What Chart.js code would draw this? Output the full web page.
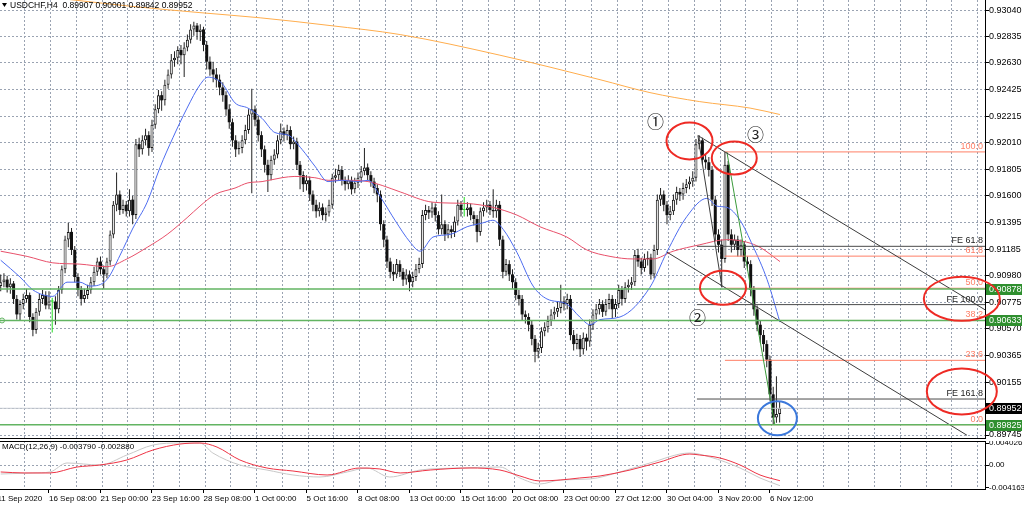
<!DOCTYPE html>
<html><head><meta charset="utf-8">
<script src="https://cdn.jsdelivr.net/npm/chart.js@4.4.1/dist/chart.umd.min.js"></script>
<style>
html,body{margin:0;padding:0;background:#fff;}
body{width:1024px;height:509px;position:relative;overflow:hidden;}
canvas{position:absolute;left:0;}
#c1{top:0}
#c2{top:441px}
</style></head><body>
<canvas id="c1" width="1024" height="439"></canvas>
<canvas id="c2" width="1024" height="68"></canvas>
<script>
// ---------------- DATA ----------------
const opens = [
.9090,.9093,.9095,.9089,.9092,.9080,.9068,.9076,.9080,.9083,.9066,.9056,.9070,.9080,.9083,.9075,
.9078,.9078,.9072,.9087,.9103,.9126,.9132,.9118,.9097,.9087,.9080,.9083,.9087,.9093,.9101,.9109,
.9103,.9099,.9109,.9130,.9153,.9161,.9149,.9153,.9148,.9157,.9145,.9200,.9196,.9203,.9207,.9197,
.9215,.9227,.9238,.9234,.9246,.9254,.9265,.9267,.9273,.9269,.9275,.9281,.9289,.9292,.9287,.9289,
.9277,.9264,.9258,.9254,.9250,.9244,.9238,.9227,.9217,.9203,.9196,.9197,.9203,.9211,.9223,.9227,
.9219,.9207,.9196,.9184,.9176,.9188,.9192,.9203,.9210,.9207,.9211,.9200,.9202,.9184,.9176,.9169,
.9172,.9161,.9153,.9148,.9151,.9145,.9147,.9153,.9174,.9176,.9180,.9172,.9169,.9172,.9165,.9170,
.9174,.9179,.9182,.9176,.9171,.9166,.9161,.9138,.9126,.9109,.9101,.9099,.9107,.9101,.9095,
.9099,.9093,.9097,.9103,.9107,.9145,.9149,.9147,.9151,.9145,.9134,.9138,.9130,.9134,.9132,.9140,
.9153,.9149,.9149,.9151,.9145,.9142,.9132,.9148,.9151,.9153,.9149,.9148,.9153,.9126,.9101,.9107,
.9099,.9093,.9083,.9080,.9068,.9066,.9060,.9049,.9039,.9042,.9055,.9058,.9063,.9068,.9070,.9073,
.9078,.9076,.9080,.9052,.9045,.9049,.9041,.9050,.9047,.9060,.9068,.9072,.9076,.9070,.9076,.9080,
.9072,.9076,.9087,.9080,.9089,.9091,.9093,.9114,.9109,.9104,.9111,.9112,.9099,.9118,.9157,.9161,
.9153,.9145,.9148,.9157,.9163,.9161,.9166,.9169,.9171,.9174,.9200,.9203,.9188,.9186,.9180,.9157,
.9130,.9122,.9111,.9184,.9130,.9122,.9126,.9118,.9122,.9109,.9107,.9087,.9072,.9060,.9052,.9045,
.9033,.9006,.8988,.89907];
const highs = [
.9099,.9100,.9098,.9096,.9094,.9083,.9079,.9084,.9088,.9085,.9069,.9073,.9084,.9087,.9086,.9086,
.9081,.9082,.9090,.9106,.9129,.9139,.9135,.9121,.9100,.9090,.9088,.9091,.9097,.9105,.9112,.9113,
.9106,.9112,.9133,.9156,.9178,.9164,.9157,.9156,.9165,.9160,.9204,.9205,.9207,.9212,.9210,.9219,
.9231,.9242,.9241,.9250,.9258,.9270,.9272,.9276,.9277,.9279,.9285,.9293,.9295,.9294,.9293,.9291,
.9280,.9268,.9264,.9259,.9254,.9248,.9241,.9231,.9220,.9207,.9202,.9207,.9215,.9227,.9243,.9230,
.9222,.9210,.9199,.9188,.9191,.9196,.9207,.9216,.9213,.9215,.9214,.9206,.9205,.9187,.9179,.9176,
.9175,.9164,.9157,.9155,.9154,.9151,.9157,.9177,.9181,.9184,.9183,.9175,.9176,.9175,.9174,.9178,
.9183,.9197,.9185,.9179,.9174,.9169,.9164,.9141,.9129,.9112,.9107,.9111,.9110,.9104,.9103,
.9102,.9101,.9107,.9112,.9149,.9153,.9152,.9155,.9154,.9148,.9161,.9141,.9138,.9137,.9144,.9157,
.9156,.9159,.9155,.9154,.9148,.9145,.9151,.9155,.9157,.9156,.9165,.9157,.9156,.9129,.9111,.9110,
.9103,.9096,.9087,.9083,.9071,.9069,.9063,.9052,.9046,.9058,.9062,.9067,.9072,.9074,.9078,.9091,
.9082,.9084,.9083,.9056,.9053,.9052,.9054,.9053,.9064,.9072,.9076,.9080,.9079,.9080,.9084,.9083,
.9080,.9091,.9090,.9093,.9095,.9097,.9118,.9119,.9112,.9115,.9117,.9115,.9122,.9161,.9166,.9164,
.9156,.9152,.9161,.9167,.9166,.9170,.9173,.9175,.9179,.9204,.9207,.9205,.9192,.9190,.9183,.9160,
.9134,.9126,.9194,.9187,.9134,.9130,.9129,.9126,.9125,.9113,.9110,.9090,.9075,.9063,.9056,.9048,
.9036,.9012,.9020,.90001];
const lows = [
.9086,.9089,.9085,.9084,.9076,.9064,.9063,.9072,.9077,.9062,.9051,.9053,.9067,.9076,.9072,.9072,
.9054,.9060,.9069,.9084,.9100,.9120,.9114,.9093,.9082,.9075,.9077,.9080,.9084,.9090,.9098,.9099,
.9088,.9096,.9106,.9127,.9148,.9145,.9146,.9144,.9144,.9138,.9142,.9190,.9192,.9199,.9191,.9194,
.9212,.9224,.9226,.9230,.9243,.9251,.9260,.9262,.9262,.9252,.9272,.9278,.9284,.9281,.9280,.9272,
.9258,.9253,.9248,.9244,.9238,.9233,.9222,.9212,.9198,.9190,.9192,.9193,.9200,.9208,.9162,.9214,
.9202,.9190,.9178,.9163,.9172,.9184,.9189,.9200,.9202,.9203,.9196,.9196,.9180,.9165,.9163,.9164,
.9156,.9148,.9143,.9144,.9141,.9140,.9144,.9150,.9170,.9172,.9168,.9164,.9165,.9161,.9162,.9166,
.9170,.9176,.9172,.9167,.9162,.9155,.9133,.9120,.9104,.9096,.9094,.9096,.9097,.9090,.9091,
.9086,.9089,.9094,.9100,.9104,.9141,.9142,.9143,.9140,.9130,.9130,.9125,.9127,.9127,.9128,.9137,
.9144,.9144,.9144,.9141,.9137,.9124,.9129,.9144,.9147,.9145,.9143,.9143,.9121,.9096,.9098,.9094,
.9088,.9079,.9075,.9063,.9061,.9055,.9044,.9031,.9034,.9038,.9051,.9054,.9059,.9064,.9066,.9069,
.9071,.9072,.9048,.9040,.9041,.9035,.9037,.9040,.9043,.9056,.9064,.9068,.9066,.9067,.9072,.9065,
.9066,.9073,.9075,.9077,.9085,.9087,.9090,.9105,.9099,.9101,.9106,.9095,.9096,.9114,.9152,.9148,
.9138,.9141,.9145,.9153,.9156,.9157,.9162,.9165,.9167,.9171,.9196,.9184,.9181,.9175,.9152,.9125,
.9116,.9089,.9108,.9125,.9116,.9118,.9113,.9113,.9104,.9102,.9082,.9067,.9055,.9046,.9039,.9027,
.9001,.89825,.8984,.89842];
const closes = [
.9093,.9095,.9089,.9092,.9080,.9068,.9076,.9080,.9083,.9066,.9056,.9070,.9080,.9083,.9075,.9078,
.9078,.9072,.9087,.9103,.9126,.9132,.9118,.9097,.9087,.9080,.9083,.9087,.9093,.9101,.9109,.9103,
.9099,.9109,.9130,.9153,.9161,.9149,.9153,.9148,.9157,.9145,.9200,.9196,.9203,.9207,.9197,.9215,
.9227,.9238,.9234,.9246,.9254,.9265,.9267,.9273,.9269,.9275,.9281,.9289,.9292,.9287,.9289,.9277,
.9264,.9258,.9254,.9250,.9244,.9238,.9227,.9217,.9203,.9196,.9197,.9203,.9211,.9223,.9227,.9219,
.9207,.9196,.9184,.9176,.9188,.9192,.9203,.9210,.9207,.9211,.9200,.9202,.9184,.9176,.9169,.9172,
.9161,.9153,.9148,.9151,.9145,.9147,.9153,.9174,.9176,.9180,.9172,.9169,.9172,.9165,.9170,.9174,
.9179,.9182,.9176,.9171,.9166,.9161,.9138,.9126,.9109,.9101,.9099,.9107,.9101,.9095,.9099,
.9093,.9097,.9103,.9107,.9145,.9149,.9147,.9151,.9145,.9134,.9138,.9130,.9134,.9132,.9140,.9153,
.9149,.9149,.9151,.9145,.9142,.9132,.9148,.9151,.9153,.9149,.9148,.9153,.9126,.9101,.9107,.9099,
.9093,.9083,.9080,.9068,.9066,.9060,.9049,.9039,.9042,.9055,.9058,.9063,.9068,.9070,.9073,.9078,
.9076,.9080,.9052,.9045,.9049,.9041,.9050,.9047,.9060,.9068,.9072,.9076,.9070,.9076,.9080,.9072,
.9076,.9087,.9080,.9089,.9091,.9093,.9114,.9109,.9104,.9111,.9112,.9099,.9118,.9157,.9161,.9153,
.9145,.9148,.9157,.9163,.9161,.9166,.9169,.9171,.9174,.9200,.9203,.9188,.9186,.9180,.9157,.9130,
.9122,.9111,.9184,.9130,.9122,.9126,.9118,.9122,.9109,.9107,.9087,.9072,.9060,.9052,.9045,.9033,
.9006,.8988,.89907,.89952];

const priceTicks = ["0.93040","0.92835","0.92630","0.92425","0.92215","0.92010","0.91805","0.91600","0.91395","0.91185","0.90980","0.90775","0.90570","0.90365","0.90155","0.89950","0.89745"];
const macdTicks = ["0.004026","0.00","-0.004163"];
const timeLabels = ["11 Sep 2020","16 Sep 08:00","21 Sep 00:00","23 Sep 16:00","28 Sep 08:00","1 Oct 00:00","5 Oct 16:00","8 Oct 08:00","13 Oct 00:00","15 Oct 16:00","20 Oct 08:00","23 Oct 00:00","27 Oct 12:00","30 Oct 04:00","3 Nov 20:00","6 Nov 12:00"];
const timeLabelBars = [-1,15,31,47,63,79,95,111,127,143,159,175,191,207,223,239];

const maFast = [[0,.9110],[6,.9097],[10,.9087],[16.2,.9082],[20.6,.9093],[24.6,.9093],[27.7,.9090],[33,.9095],[37.1,.9114],[41.1,.9135],[45.5,.9155],[49.5,.9182],[53.5,.9205],[57.9,.9228],[61.9,.9246],[64.4,.9252],[68.8,.9247],[72.8,.9232],[76.8,.9228],[81.2,.9220],[85.2,.9209],[89.3,.9207],[93.6,.9196],[97.6,.9183],[101.7,.9171],[106,.9172],[111,.9171],[114.1,.9172],[118.5,.9157],[122.5,.9141],[127.2,.9124],[130.3,.9117],[134.3,.9128],[139.6,.9130],[144.9,.9136],[149.8,.9139],[152.9,.9141],[156.1,.9134],[160.4,.9116],[165.4,.9090],[169.7,.9080],[175.9,.9076],[179.9,.9066],[183.1,.9060],[186.2,.9064],[192.4,.9066],[201.7,.9089],[206.9,.9116],[213.2,.9144],[219.4,.9158],[222.5,.9152],[225.6,.9151],[229.7,.9141],[233.7,.9121],[238.1,.9095],[242.1,.9062]];
const maMid = [[0,.9117],[8.2,.9113],[16.2,.9108],[24.6,.9107],[33,.9105],[39.2,.9111],[45.5,.9120],[51.7,.9130],[57.9,.9143],[61.9,.9152],[66.6,.9161],[72.8,.9166],[76.8,.9170],[81.2,.9171],[87.4,.9174],[91.4,.9175],[97.6,.9174],[101.7,.9172],[107.9,.9172],[114.1,.9171],[118.5,.9168],[124.1,.9163],[134.3,.9155],[144.9,.9154],[152.9,.9151],[160.4,.9145],[167.5,.9136],[175.9,.9128],[182.1,.9118],[189.3,.9113],[196.4,.9111],[202.6,.9111],[208.9,.9117],[217.2,.9122],[225.6,.9126],[231.8,.9124],[235.9,.9120],[242.1,.9109]];
const maSlow = [[-0.2,.9318],[23.1,.93117],[40.2,.9307],[61.9,.9302],[80.6,.9298],[102.3,.9292],[124.1,.9285],[155.1,.9269],[186.2,.9250],[201.7,.9240],[217.2,.9233],[232.8,.9228],[242.1,.9223]];
const macdMain = [[0,-0.00165],[10,-0.00146],[15.3,-0.00128],[20.6,0.00037],[30.8,0],[39.2,0.00183],[47.3,0.00366],[55.7,0.00403],[61.9,0.00403],[65.9,0.00220],[74.3,0],[82.7,-0.00092],[90.8,-0.00183],[99.2,-0.00220],[107.6,-0.00128],[113.8,-0.00055],[120.9,-0.00220],[130.3,-0.00092],[142.7,-0.00055],[155.1,-0.00037],[161.3,-0.00238],[167.5,-0.00348],[173.8,-0.00275],[183.1,-0.00256],[192.4,-0.00128],[201.7,0.00037],[214.1,0.00220],[220.4,0.00146],[229.7,-0.00055],[235.9,-0.00238],[242.1,-0.00379]];
const macdSignal = [[0,-0.00128],[7.5,-0.00146],[15.3,-0.00146],[23.7,-0.00037],[30.8,0],[39.2,0.00092],[47.3,0.00275],[55.7,0.00384],[61.9,0.00403],[67.2,0.00329],[74.3,0.00092],[82.7,-0.00055],[90.8,-0.00110],[101.4,-0.00183],[111.6,-0.00055],[117.8,-0.00073],[124.1,-0.00146],[133.4,-0.00092],[145.8,-0.00055],[155.1,-0.00092],[161.3,-0.00201],[167.5,-0.00293],[173.8,-0.00275],[179.9,-0.00238],[186.2,-0.00201],[195.5,-0.00092],[204.8,0.00055],[214.1,0.00201],[217.2,0.00183],[223.5,0.00128],[229.7,0],[235.9,-0.00183],[242.1,-0.00288]];

const greenLevels = [0.90878, 0.90633, 0.89825];
const bidPrice = 0.89952;
const fibLabels = ["100.0","61.8","50.0","38.2","23.6","0.0"];
const fibPrices = [0.91940,0.91132,0.90883,0.90633,0.90324,0.89825];
const feLabels = ["FE 61.8","FE 100.0","FE 161.8"];
const fePrices = [0.91208,0.90756,0.90024];
const headerText = "USDCHF,H4  0.89907 0.90001 0.89842 0.89952";
const macdTitle = "MACD(12,26,9) -0.003790 -0.002880";

// ---------------- LAYOUT / STYLE ----------------
const X_MIN = -0.22, X_MAX = 305.8;
const P_MIN = 0.89714, P_MAX = 0.93118;
const FONT = "'Liberation Sans', Arial, sans-serif";
const GRID = '#9aa3b2';
const FIB = '#ff7f66';
const GREEN = '#62b462';
Chart.defaults.font.family = FONT;
Chart.defaults.color = '#000';

const bars = opens.map((o,i)=>({i, o, h:highs[i], l:lows[i], c:closes[i]}));
const pts = arr => arr.map(p=>({x:p[0], y:p[1]}));
const gridBars = () => { const a=[]; for (let v=7.5; v<X_MAX; v+=8) a.push({value:v}); return a; };

function line(data, color, width, order, extra) {
  return Object.assign({type:'line', data, borderColor:color, borderWidth:width, pointRadius:0, tension:0, fill:false, order}, extra||{});
}
function barSet(data, fill, border, bw, thick, order) {
  return {type:'bar', data, backgroundColor:fill, borderColor:border, borderWidth:bw, barThickness:thick,
          grouped:false, borderSkipped:false, inflateAmount:0, minBarLength:1, order};
}

const datasets = [];
fibPrices.forEach(p => datasets.push(line([{x:225,y:p},{x:X_MAX,y:p}], FIB, 1, 3)));
fePrices.forEach(p => datasets.push(line([{x:216.3,y:p},{x:X_MAX,y:p}], '#4a4a4a', 1, 3)));
datasets.push(line([{x:X_MIN,y:bidPrice},{x:X_MAX,y:bidPrice}], '#c3c8d0', 1, 2));
greenLevels.forEach(p => datasets.push(line([{x:X_MIN,y:p},{x:X_MAX,y:p}], GREEN, 1.5, 1)));
datasets.push(line([{x:216.6,y:0.92067},{x:305.8,y:0.90716}], '#3c3c3c', 1, 1));
datasets.push(line([{x:206.9,y:0.91164},{x:300.2,y:0.89743}], '#3c3c3c', 1, 1));
datasets.push(line([{x:216.6,y:0.92067},{x:224.1,y:0.9089}], '#3c3c3c', 1, 1));
datasets.push(line([{x:225.6,y:0.9194},{x:240.5,y:0.89825}], '#3a9a3a', 1, 1));
datasets.push(line(pts(maFast), '#4d6cf0', 1, 4, {cubicInterpolationMode:'monotone'}));
datasets.push(line(pts(maMid), '#e8506a', 1, 4, {cubicInterpolationMode:'monotone'}));
datasets.push(line(pts(maSlow), '#ffad4d', 1, 4, {cubicInterpolationMode:'monotone'}));
datasets.push(barSet(bars.filter(b=>b.c>b.o).map(b=>({x:b.i,y:[b.o,b.c]})), '#ffffff', '#1a1a1a', 1, 3, 5));
datasets.push(barSet(bars.filter(b=>b.c<b.o).map(b=>({x:b.i,y:[b.c,b.o]})), '#111111', '#111111', 0, 3, 5));
datasets.push(barSet(bars.filter(b=>b.c===b.o).map(b=>({x:b.i,y:[b.c,b.c]})), '#22dd22', '#22dd22', 0, 3, 5));
datasets.push(barSet(bars.filter(b=>b.c!==b.o).map(b=>({x:b.i,y:[b.l,b.h]})), '#222222', '#222222', 0, 1, 6));
datasets.push(barSet(bars.filter(b=>b.c===b.o).map(b=>({x:b.i,y:[b.l,b.h]})), '#22dd22', '#22dd22', 0, 1, 6));

function ellipse(ctx, cx, cy, rx, ry, color) {
  ctx.save(); ctx.strokeStyle = color; ctx.lineWidth = 2;
  ctx.beginPath(); ctx.ellipse(cx, cy, rx, ry, 0, 0, Math.PI*2); ctx.stroke(); ctx.restore();
}
function axisBox(ctx, y, text, bg) {
  ctx.save(); ctx.fillStyle = bg; ctx.fillRect(986, Math.round(y)-5, 36, 11);
  ctx.fillStyle = '#fff'; ctx.font = '9px ' + FONT; ctx.textBaseline = 'middle'; ctx.textAlign='left';
  ctx.fillText(text, 989, Math.round(y)+0.5); ctx.restore();
}

const annot = {
  id: 'annot',
  afterDatasetsDraw(chart) {
    const {ctx, scales:{x, y}} = chart;
    ctx.save();
    ctx.textAlign = 'right'; ctx.textBaseline = 'bottom';
    ctx.font = '9px ' + FONT; ctx.fillStyle = FIB;
    fibPrices.forEach((p,k) => ctx.fillText(fibLabels[k], 983, y.getPixelForValue(p) - 1));
    ctx.fillStyle = '#222';
    fePrices.forEach((p,k) => ctx.fillText(feLabels[k], 983, y.getPixelForValue(p) - 1));
    ctx.font = "17px 'Noto Sans CJK JP', 'DejaVu Sans', sans-serif";
    ctx.textAlign = 'center'; ctx.textBaseline = 'middle'; ctx.fillStyle = '#222';
    ctx.fillText('\u2460', x.getPixelForValue(203.4), y.getPixelForValue(0.92179));
    ctx.fillText('\u2461', x.getPixelForValue(216.5), y.getPixelForValue(0.90658));
    ctx.fillText('\u2462', x.getPixelForValue(234.5), y.getPixelForValue(0.92075));
    ctx.strokeStyle = GREEN; ctx.lineWidth = 1;
    ctx.beginPath(); ctx.arc(2, y.getPixelForValue(0.90633), 2.5, 0, Math.PI*2); ctx.stroke();
    ctx.restore();
  },
  afterDraw(chart) {
    const {ctx, scales:{x, y}} = chart;
    ctx.save(); ctx.strokeStyle = '#000'; ctx.lineWidth = 1;
    ctx.beginPath(); ctx.moveTo(0, 438.5); ctx.lineTo(986, 438.5); ctx.stroke(); ctx.restore();
    greenLevels.forEach(p => axisBox(ctx, y.getPixelForValue(p), p.toFixed(5), '#2f8f2f'));
    axisBox(ctx, y.getPixelForValue(bidPrice), bidPrice.toFixed(5), '#000');
    const E = (i, p, rx, ry, c) => ellipse(ctx, x.getPixelForValue(i), y.getPixelForValue(p), rx, ry, c);
    E(214, 0.92025, 23, 18.5, '#ee2a24');
    E(224.4, 0.90886, 23, 17, '#ee2a24');
    E(227.9, 0.91893, 22.5, 16.5, '#ee2a24');
    E(298.6, 0.90801, 38, 22, '#ee2a24');
    E(298.6, 0.90083, 35, 23, '#ee2a24');
    E(241.3, 0.89875, 19.5, 17, '#3b78db');
    ctx.save();
    ctx.fillStyle = '#000';
    ctx.beginPath(); ctx.moveTo(2,3); ctx.lineTo(7,3); ctx.lineTo(4.5,7); ctx.closePath(); ctx.fill();
    ctx.font = '8.5px ' + FONT; ctx.textBaseline = 'middle'; ctx.textAlign = 'left';
    ctx.fillText(headerText, 10, 5.5);
    ctx.restore();
  }
};

new Chart(document.getElementById('c1'), {
  type: 'bar',
  data: { datasets },
  options: {
    responsive:false, animation:false, devicePixelRatio:1,
    layout:{padding:0, autoPadding:false},
    plugins:{legend:{display:false}, tooltip:{enabled:false}},
    scales:{
      x:{type:'linear', min:X_MIN, max:X_MAX, position:'bottom', offset:false,
         afterBuildTicks:s=>{ s.ticks = gridBars(); },
         ticks:{display:false}, grid:{color:GRID, drawTicks:false, offset:false}, border:{display:false, dash:[2,2]},
         afterFit:s=>{ s.height=0; s.paddingLeft=0; s.paddingRight=0; }},
      y:{type:'linear', position:'right', min:P_MIN, max:P_MAX, offset:false,
         afterBuildTicks:s=>{ s.ticks = priceTicks.map(t=>({value:parseFloat(t)})); },
         ticks:{callback:(v,k)=>priceTicks[k], font:{size:9}, color:'#000', padding:0, autoSkip:false},
         grid:{color:GRID, drawTicks:true, tickLength:4, tickColor:'#000', tickBorderDash:[]},
         border:{display:true, color:'#000', width:1, dash:[2,2]},
         afterFit:s=>{ s.width=39; s.paddingTop=0; s.paddingBottom=0; }}
    }
  },
  plugins:[annot]
});

const macdAnnot = {
  id:'macdAnnot',
  afterDraw(chart){
    const {ctx} = chart;
    ctx.save(); ctx.strokeStyle='#000'; ctx.lineWidth=1;
    ctx.beginPath(); ctx.moveTo(0,0.5); ctx.lineTo(986,0.5); ctx.moveTo(0,48.5); ctx.lineTo(986,48.5); ctx.stroke();
    ctx.font='8px ' + FONT; ctx.fillStyle='#000'; ctx.textBaseline='middle'; ctx.textAlign='left';
    ctx.fillText(macdTitle, 2, 5.5);
    ctx.restore();
  }
};

new Chart(document.getElementById('c2'), {
  type:'line',
  data:{ datasets:[
    line(pts(macdSignal), '#ee3344', 1, 1, {cubicInterpolationMode:'monotone'}),
    line(pts(macdMain), '#c8c8c8', 1, 2, {cubicInterpolationMode:'monotone'})
  ]},
  options:{
    responsive:false, animation:false, devicePixelRatio:1,
    layout:{padding:0, autoPadding:false},
    plugins:{legend:{display:false}, tooltip:{enabled:false}},
    scales:{
      x:{type:'linear', min:X_MIN, max:X_MAX, position:'bottom', offset:false,
         afterBuildTicks:s=>{ s.ticks = gridBars(); },
         ticks:{display:false}, grid:{color:GRID, drawTicks:false, offset:false}, border:{display:false, dash:[2,2]},
         afterFit:s=>{ s.height=0; s.paddingLeft=0; s.paddingRight=0; }},
      x2:{type:'linear', min:X_MIN, max:X_MAX, position:'bottom', offset:false,
         afterBuildTicks:s=>{ s.ticks = timeLabelBars.map(v=>({value:v})); },
         ticks:{callback:(v,k)=>timeLabels[k], align:'start', maxRotation:0, minRotation:0, autoSkip:false, font:{size:8}, padding:1, color:'#000'},
         grid:{drawOnChartArea:false, drawTicks:true, tickLength:4, tickColor:'#000', offset:false},
         border:{display:false},
         afterFit:s=>{ s.height=20; s.paddingLeft=0; s.paddingRight=0; }},
      y:{type:'linear', position:'right', min:-0.0044, max:0.0044,
         afterBuildTicks:s=>{ s.ticks = macdTicks.map(t=>({value:parseFloat(t)})); },
         ticks:{callback:(v,k)=>macdTicks[k], font:{size:8}, color:'#000', padding:0, autoSkip:false},
         grid:{color:c=> (c.tick && c.tick.value===0) ? GRID : 'rgba(0,0,0,0)', drawTicks:true, tickLength:4, tickColor:'#000', tickBorderDash:[]},
         border:{display:true, color:'#000', width:1, dash:[2,2]},
         afterFit:s=>{ s.width=39; s.paddingTop=0; s.paddingBottom=0; }}
    }
  },
  plugins:[macdAnnot]
});
</script></body></html>
